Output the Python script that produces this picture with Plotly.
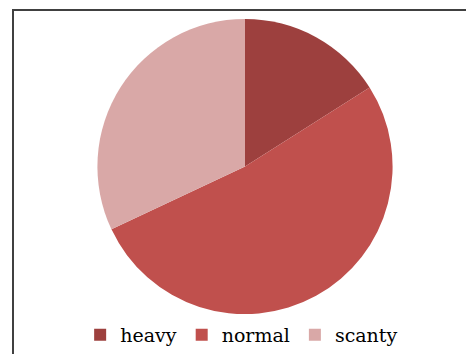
import plotly.graph_objects as go

labels = ["heavy", "normal", "scanty"]
values = [16, 52, 32]
colors = ["#9D403E", "#C0504D", "#D9A8A7"]

W, H = 466, 354
cx, cy, r = 245, 167, 148

fig = go.Figure(go.Pie(
    labels=labels, values=values, sort=False, direction="clockwise", rotation=0,
    marker=dict(colors=colors, line=dict(width=0)),
    textinfo="none", hoverinfo="label+percent",
    domain=dict(x=[(cx - r) / W, (cx + r) / W], y=[1 - (cy + r) / H, 1 - (cy - r) / H]),
))

fig.update_layout(
    width=W, height=H, margin=dict(l=0, r=0, t=0, b=0),
    paper_bgcolor="white", plot_bgcolor="white",
    font=dict(family="DejaVu Serif", size=19, color="black"),
    showlegend=True,
    legend=dict(orientation="h", x=0.172, xanchor="left", y=1 - 336 / H, yanchor="middle",
                font=dict(family="DejaVu Serif", size=19, color="black"),
                itemwidth=30, tracegroupgap=0, bgcolor="rgba(0,0,0,0)"),
    shapes=[dict(type="rect", xref="paper", yref="paper",
                 x0=13 / W, x1=1.05, y0=-0.05, y1=1 - 10 / H,
                 line=dict(color="#404040", width=2), fillcolor="rgba(0,0,0,0)", layer="below")],
)

fig.write_html("out.html")
